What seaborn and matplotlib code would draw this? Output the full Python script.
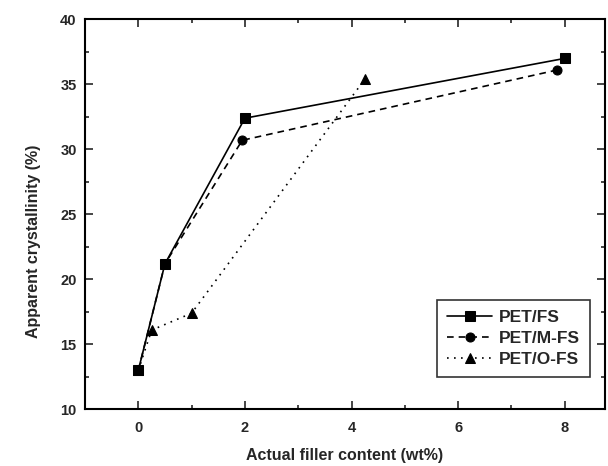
import matplotlib
matplotlib.use("Agg")
import matplotlib.pyplot as plt
import seaborn as sns
from matplotlib.ticker import MultipleLocator

# Data
fs_x = [0, 0.5, 2.0, 8.0]
fs_y = [13.0, 21.2, 32.4, 37.0]
mfs_x = [0, 0.5, 1.95, 7.85]
mfs_y = [13.0, 21.2, 30.7, 36.1]
ofs_x = [0, 0.25, 1.0, 4.25]
ofs_y = [13.0, 16.1, 17.4, 35.4]
labels = ["PET/FS", "PET/M-FS", "PET/O-FS"]
xticks = [0, 2, 4, 6, 8]
yticks = [10, 15, 20, 25, 30, 35, 40]

sns.set_style("ticks")
plt.rcParams['font.family'] = ['Liberation Sans', 'DejaVu Sans']
plt.rcParams['font.weight'] = 'bold'

fig = plt.figure(figsize=(6.08, 4.66), dpi=100)
ax = fig.add_axes([85/608, 56.6/466, 519.7/608, 390/466])

series = [
    (fs_x, fs_y, labels[0], 's', '-'),
    (mfs_x, mfs_y, labels[1], 'o', (0, (4, 3))),
    (ofs_x, ofs_y, labels[2], '^', (0, (1, 3.2))),
]
for xs, ys, lab, mk, ls in series:
    sns.lineplot(x=xs, y=ys, ax=ax, color='black', marker=mk, linestyle=ls,
                 linewidth=1.2, markersize=6.5, markeredgecolor='black',
                 markerfacecolor='black', label=lab, sort=False, errorbar=None)

ax.set_xlim(-1, 8.75)
ax.set_ylim(10, 40)
ax.set_xticks(xticks)
ax.set_yticks(yticks)
ax.xaxis.set_minor_locator(MultipleLocator(1))
ax.yaxis.set_minor_locator(MultipleLocator(2.5))
ax.tick_params(which='both', direction='in', top=True, right=True, width=1.2,
               labelsize=10.5)
ax.tick_params(which='major', length=6)
ax.tick_params(which='minor', length=3)
ax.tick_params(axis='x', pad=8)
ax.tick_params(axis='y', pad=6)
for lbl in ax.get_xticklabels() + ax.get_yticklabels():
    lbl.set_fontweight('bold')
for sp in ax.spines.values():
    sp.set_linewidth(1.5)
    sp.set_color('black')

ax.set_xlabel("Actual filler content (wt%)", fontsize=11.5, fontweight='bold', labelpad=10)
ax.set_ylabel("Apparent crystallinity (%)", fontsize=11.5, fontweight='bold')
ax.yaxis.set_label_coords(-0.085, 0.43)

leg = ax.legend(loc='lower right', bbox_to_anchor=(0.971, 0.084), borderaxespad=0,
                fancybox=False, frameon=True, edgecolor='black',
                prop={'weight': 'bold', 'size': 12.5}, handlelength=2.6,
                handletextpad=0.4, labelspacing=0.35, borderpad=0.55)
leg.get_frame().set_linewidth(1.2)

fig.savefig("out.png", dpi=100)
